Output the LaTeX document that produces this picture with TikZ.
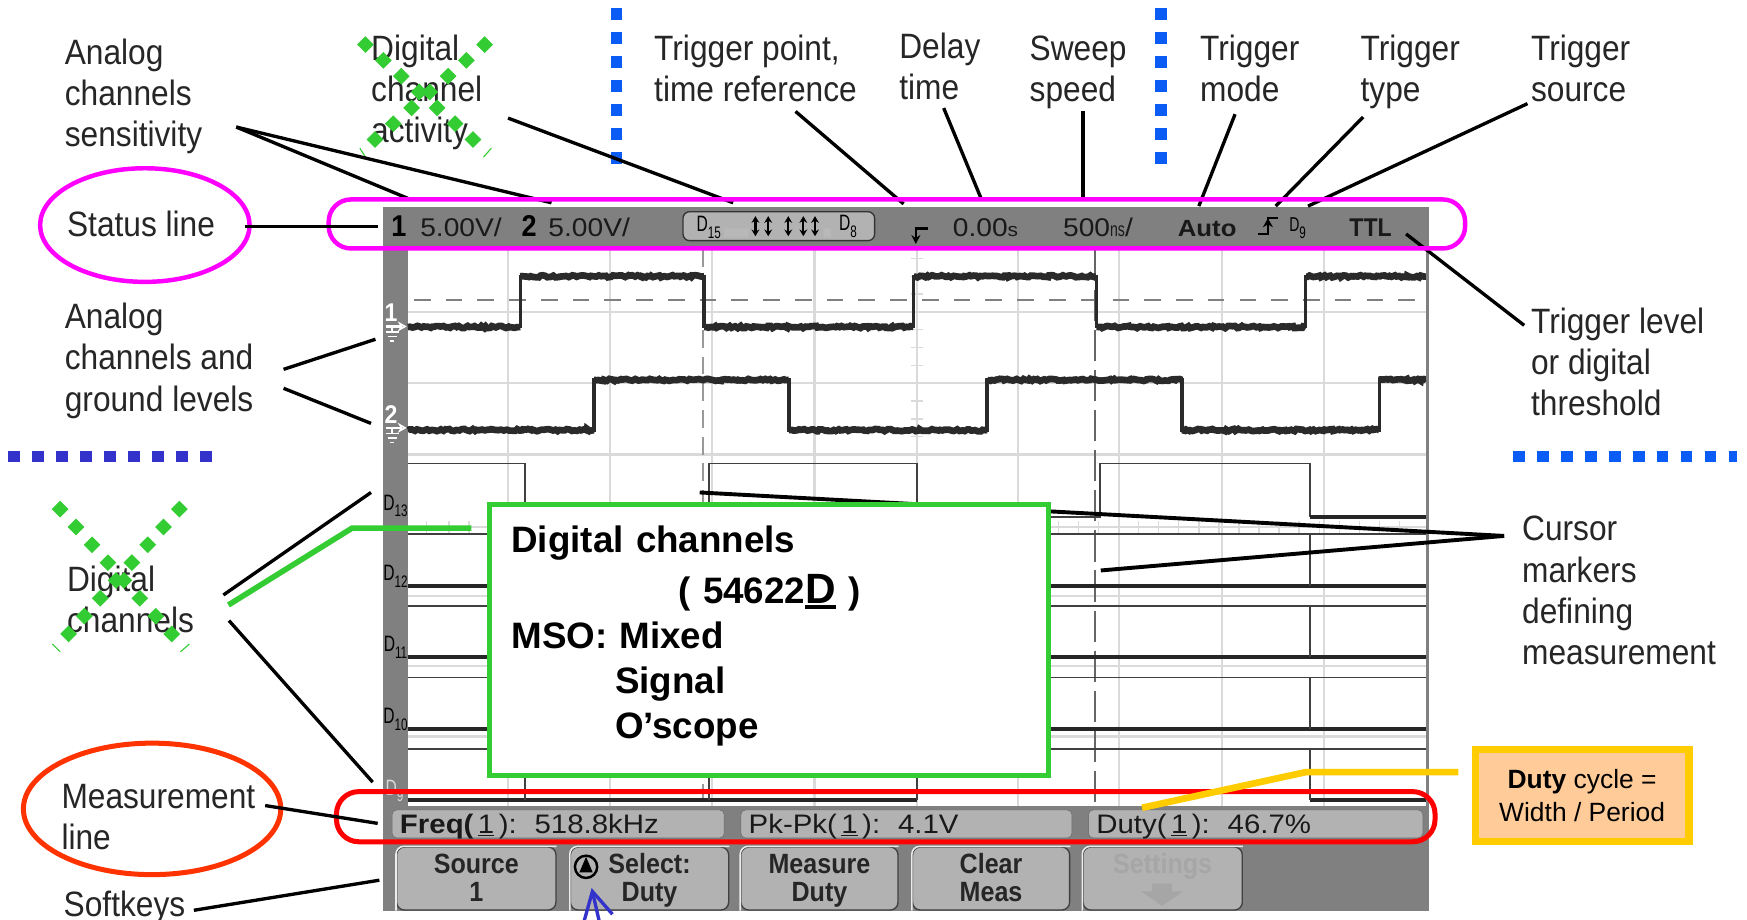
\documentclass[tikz,border=0pt]{standalone}
\usepackage{fontspec}
\setmainfont{Liberation Sans}
\newfontfamily\lblfont[FakeStretch=0.9]{Liberation Sans}
\newfontfamily\scopefont[FakeStretch=1.1]{Liberation Sans}
\newfontfamily\thinfont[FakeStretch=0.7]{Liberation Sans}
\usetikzlibrary{arrows.meta,positioning,shapes.geometric,decorations.pathmorphing}
\definecolor{scopegray}{HTML}{808080}
\definecolor{keygray}{HTML}{B2B2B2}
\definecolor{gridgray}{HTML}{DADADA}
\definecolor{tracegray}{HTML}{2A2A2A}
\definecolor{ringpink}{HTML}{FF00FF}
\definecolor{ringred}{HTML}{FF3300}
\definecolor{xgreen}{HTML}{33CC33}
\definecolor{dotblue}{HTML}{0A5CF5}
\definecolor{dotindigo}{HTML}{3333CC}
\definecolor{noteyellow}{HTML}{FFCC00}
\definecolor{notefill}{HTML}{FFCC99}
\tikzset{
  lbl/.style={anchor=base west,align=left,inner sep=0pt,text=black!85,
              font=\lblfont\fontsize{31.6}{37}\selectfont},
  stat/.style={anchor=base west,inner sep=0pt,text=black!90,
              font=\scopefont\fontsize{23}{26}\selectfont},
  chan/.style={inner sep=0pt,text=black,font=\thinfont\fontsize{20}{22}\selectfont},
  leader/.style={line width=3pt,draw=black},
  gridline/.style={line width=2pt,draw=gridgray},
  tickmark/.style={line width=1.2pt,draw=gridgray},
  highline/.style={line width=1.6pt,draw=black!75},
  lowline/.style={line width=3.4pt,draw=black!85},
  flat/.style={line width=6pt,draw=tracegray,decorate,
               decoration={random steps,segment length=2pt,amplitude=1pt}},
  edge/.style={line width=3pt,draw=tracegray},
  dotline/.style={line width=10pt,dash pattern=on 10.5pt off 11pt},
  measbox/.style={draw=black!60,fill=keygray,rounded corners=4pt,inner ysep=0pt,inner xsep=7pt,
              minimum height=25pt,text height=19pt,text depth=2pt,align=left,text=black!90,
              font=\scopefont\fontsize{24}{25}\selectfont},
  softkey/.style={draw=black!75,line width=1.2pt,fill=keygray,rounded corners=7pt,inner sep=0pt,
              minimum height=55pt,align=center,text=black!85,
              font=\lblfont\bfseries\fontsize{25}{25}\selectfont},
  ring/.style={ellipse,line width=4pt,inner sep=0pt},
  band/.style={rounded corners=20pt,inner sep=0pt},
}
\newcommand{\greencross}[5]{%
  \foreach \i in {1,...,#5} {
    \fill[xgreen,shift={({#1+(\i-1)*#3},{#2+(\i-1)*#4})}] (0,-7.5) -- (7.5,0) -- (0,7.5) -- (-7.5,0) -- cycle;
  }
}
\newcommand{\gndmark}[2]{%
  \draw[white,line width=1.3pt] (#1,#2) -- (#1,#2+4);
  \draw[white,line width=1.3pt] (#1-6,#2+4) -- (#1+6,#2+4) (#1-4,#2+8) -- (#1+4,#2+8) (#1-2,#2+12) -- (#1+2,#2+12);
}
\newcommand{\chanmark}[2]{#1\raisebox{-6pt}{\fontsize{15}{16}\selectfont #2}}
\newcommand{\keytop}{\rule{0pt}{24pt}}
\begin{document}
\begin{tikzpicture}[x=1pt,y=-1pt]
  \path[fill=white,use as bounding box] (0,0) rectangle (1568,825);
  % scope screen
  \fill[scopegray] (344,186) rectangle (1283,818);
  \fill[white] (366,224) rectangle (1281,723);
  \foreach \gx in {456,547.5,639,731,823,914,1004,1097,1188}
    \draw[gridline] (\gx,224) -- (\gx,723);
  \foreach \gy in {280,344,408,473,535,598,661}
    \draw[gridline] (366,\gy) -- (1281,\gy);
  \foreach \ty in {232,248,...,400}
    \draw[tickmark] (818,\ty) -- (828,\ty);
  \foreach \tx in {383,403,421,950,968,...,1270}
    \draw[tickmark] (\tx,468) -- (\tx,478);
  \draw[line width=1.6pt,draw=gray,dash pattern=on 15pt off 13.5pt] (371.5,269) -- (1272,269);
  \draw[line width=1.6pt,draw=gray!80,dash pattern=on 16pt off 8pt] (631,224) -- (631,723);
  \draw[line width=1.6pt,draw=black!60,dash pattern=on 28pt off 8pt] (983,224) -- (983,723);
  % analog traces
  \pgfmathsetseed{7}
  \draw[edge] (366,293) -| (467,248) -| (632,293) -| (820,248) -| (984,293) -| (1172,248) -- (1280,248);
  \draw[edge] (366,386) -| (533,341) -| (708,386) -| (886,341) -| (1061,386) -| (1238,341) -- (1280,341);
  \foreach \xa/\xb/\yy in {366/467/293.5,467/632/248,632/820/293.5,820/984/248,984/1172/293.5,1172/1280/248,
                           366/533/386,533/708/341,708/886/386,886/1061/341,1061/1238/386,1238/1280/341}
    \draw[flat] (\xa,\yy) -- (\xb,\yy);
  % digital traces
  \draw[highline] (366,416) -| (471,464) -| (636,416) -| (823,464) -| (987,416) -| (1176,464);
  \draw[lowline] (1176,464) -- (1280,464);
  \foreach \yh/\yl in {479/526,544/590,608/654} {
    \draw[highline] (366,\yh) -- (1280,\yh);
    \draw[lowline] (366,\yl) -- (1280,\yl);
    \draw[highline] (1176,\yh) -- (1176,\yl);
  }
  \draw[highline] (366,672) -- (1280,672);
  \draw[lowline] (366,718) -- (823,718);
  \draw[lowline] (1176,718) -- (1280,718);
  \foreach \ex in {471,636,823,1176}
    \draw[highline] (\ex,672) -- (\ex,718);
  \draw[line width=1.6pt,draw=gray] (1281,224) -- (1281,723);
  % channel marks
  \node[chan,text=white,font=\lblfont\bfseries\fontsize{23}{24}\selectfont] (chone) at (351,281) {1};
  \node[chan,text=white,font=\lblfont\bfseries\fontsize{23}{24}\selectfont] (chtwo) at (351,372) {2};
  \draw[white,line width=2pt,-{Stealth[length=8pt,width=9pt,open]}] (346,293) -- (365,293);
  \draw[white,line width=2pt,-{Stealth[length=8pt,width=9pt,open]}] (346,384) -- (365,384);
  \gndmark{352}{294}
  \gndmark{352}{385}
  \node[chan] (dthirteen) at (355,454) {\chanmark{D}{13}};
  \node[chan] (dtwelve) at (355,517) {\chanmark{D}{12}};
  \node[chan] (deleven) at (355,581) {\chanmark{D}{11}};
  \node[chan] (dten) at (355,646) {\chanmark{D}{10}};
  \node[chan,text=white!85!black] (dnine) at (354,710) {\chanmark{D}{9}};
  % status line texts
  \node[stat,font=\lblfont\bfseries\fontsize{27}{28}\selectfont,text=black] (statone) at (351,212) {1};
  \node[stat] (stata) at (377,212) {5.00V/};
  \node[stat,font=\lblfont\bfseries\fontsize{27}{28}\selectfont,text=black] (stattwo) at (468,212) {2};
  \node[stat] (statb) at (492,212) {5.00V/};
  \node[draw=black!80,line width=1.2pt,fill=keygray,rounded corners=6pt,minimum width=172pt,minimum height=26pt,inner sep=0pt] (pill) at (699,203) {};
  \fill[black!28] (650,205) rectangle (672,213) (739,205) rectangle (746,213);
  \foreach \ax in {678,689.5,707.5,721,731.5}
    \draw[line width=2pt,draw=black,{Stealth[length=6pt,width=7pt]}-{Stealth[length=6pt,width=7pt]}] (\ax,194) -- (\ax,212);
  \node[chan,anchor=base west] (dfifteen) at (625,208) {\chanmark{D}{15}};
  \node[chan,anchor=base west] (deight) at (753,207) {\chanmark{D}{8}};
  \draw[line width=2pt,draw=black,-{Stealth[length=8pt,width=8pt]}] (833,205) -- (822,205) -- (822,219);
  \node[stat] (statdelay) at (855,212) {0.00\fontsize{17}{18}\selectfont s};
  \node[stat] (statsweep) at (954,212) {500\thinfont\fontsize{18}{18}\selectfont ns\scopefont\fontsize{23}{26}\selectfont/};
  \node[stat,font=\scopefont\bfseries\fontsize{21}{24}\selectfont] (statmode) at (1057,212) {Auto};
  \draw[line width=2pt,draw=black] (1129,210) -- (1138,210) -- (1138,196) -- (1147,196);
  \draw[line width=2pt,draw=black,-{Stealth[length=8pt,width=9pt]}] (1138,210) -- (1138,196);
  \node[chan,anchor=base west,font=\thinfont\fontsize{18}{20}\selectfont] (stattype) at (1157,208) {\chanmark{D}{9}};
  \node[stat,font=\lblfont\bfseries\fontsize{23}{26}\selectfont] (stattrig) at (1211,212) {TTL};
  % measurement line
  \node[measbox,text width=284pt] (freq) at (501,739.5) {\textbf{Freq(}\,\underline{1}\,):\ \ 518.8kHz};
  \node[measbox,text width=283pt] (pkpk) at (813.5,739.5) {Pk-Pk(\,\underline{1}\,):\ \ 4.1V};
  \node[measbox,text width=286pt] (duty) at (1127,739.5) {Duty(\,\underline{1}\,):\ \ 46.7\%};
  % softkeys
  \node[softkey,minimum width=143pt] (srckey) at (427.5,788.5) {\keytop Source\\1\strut};
  \node[softkey,minimum width=142pt] (selkey) at (583,788.5) {\keytop Select:\\Duty\strut};
  \node[softkey,minimum width=141pt] (meakey) at (735.5,788.5) {\keytop Measure\\Duty\strut};
  \node[softkey,minimum width=141pt] (clrkey) at (889.5,788.5) {\keytop Clear\\Meas\strut};
  \node[softkey,minimum width=143pt,text=black!35] (setkey) at (1043.5,788.5) {\keytop Settings\\\strut};
  \foreach \kn in {srckey,selkey,meakey,clrkey,setkey}
    \draw[white!85!gray,line width=1.4pt,rounded corners=7pt] (\kn.south west) |- (\kn.north east);
  \fill[black!35] (1034,793) -- (1052,793) -- (1052,800) -- (1062,800) -- (1043,813) -- (1024,800) -- (1034,800) -- cycle;
  \draw[black!30,line width=2pt] (372,778) circle (11pt);
  \fill[black!30] (372,768) -- (379,785) -- (365,785) -- cycle;
  \draw[black,line width=2.2pt] (526,778) circle (10pt);
  \fill[black] (526,769) -- (532,783) -- (520,783) -- cycle;
  % labels
  \node[lbl] (senslbl) at (58,131.5) {Analog\\channels\\sensitivity};
  \node[lbl] (activlbl) at (333,128) {Digital\\channel\\activity};
  \node[lbl] (pointlbl) at (587,91.5) {Trigger point,\\time reference};
  \node[lbl] (delaylbl) at (807,89.5) {Delay\\time};
  \node[lbl] (sweeplbl) at (924,91.5) {Sweep\\speed};
  \node[lbl] (modelbl) at (1077,91.5) {Trigger\\mode};
  \node[lbl] (typelbl) at (1221,91.5) {Trigger\\type};
  \node[lbl] (sourcelbl) at (1374,91.5) {Trigger\\source};
  \node[lbl] (levellbl) at (1374,373) {Trigger level\\or digital\\threshold};
  \node[lbl] (cursorlbl) at (1366,596.5) {Cursor\\markers\\defining\\measurement};
  \node[lbl] (groundlbl) at (58,369) {Analog\\channels and\\ground levels};
  \node[lbl] (statuslbl) at (60,212) {Status line};
  \node[lbl] (digilbl) at (60,568) {Digital\\channels};
  \node[lbl] (measlbl) at (55,762.5) {Measurement\\line};
  \node[lbl] (softlbl) at (57,823) {Softkeys};
  % crossed out labels
  \greencross{328}{40}{16.1}{14.2}{7}
  \greencross{435}{40}{-16.4}{14.2}{7}
  \greencross{54}{457}{14.3}{16}{8}
  \greencross{161}{457}{-14.2}{16}{8}
  \draw[xgreen,line width=1pt] (323,133) -- (328,141) (441,133) -- (434,141) (47,578) -- (54,585) (170,578) -- (162,585);
  % dotted rules
  \draw[dotline,draw=dotblue] (553,7.5) -- (553,148);
  \draw[dotline,draw=dotblue] (1042,7.5) -- (1042,148);
  \draw[dotline,draw=dotindigo] (7.5,409.5) -- (192,409.5);
  \draw[dotline,draw=dotblue] (1358,409.5) -- (1559,409.5);
  % leaders
  \coordinate (senstail) at (212,114);
  \coordinate (sensone) at (366,178);
  \coordinate (senstwo) at (495,182);
  \coordinate (activtail) at (456,106);
  \coordinate (activend) at (658,182);
  \coordinate (pointtail) at (714,100);
  \coordinate (pointend) at (811,183);
  \coordinate (delaytail) at (847,97);
  \coordinate (delayend) at (880.5,178);
  \coordinate (sweeptail) at (972,100);
  \coordinate (sweepend) at (972,178);
  \coordinate (modetail) at (1108.5,102.5);
  \coordinate (modeend) at (1076,185);
  \coordinate (typetail) at (1223.5,105);
  \coordinate (typeend) at (1145,185);
  \coordinate (sourcetail) at (1371,93);
  \coordinate (sourceend) at (1174,185);
  \coordinate (leveltail) at (1368,292);
  \coordinate (levelend) at (1262,210);
  \coordinate (groundtail) at (254.5,331.5);
  \coordinate (groundone) at (337,304.5);
  \coordinate (groundtwoa) at (254.5,348.5);
  \coordinate (groundtwo) at (333,380);
  \coordinate (digitop) at (200.5,534);
  \coordinate (digione) at (333,442);
  \coordinate (digibot) at (205.5,557);
  \coordinate (digitwo) at (334.5,702);
  \coordinate (cursortip) at (1350,481);
  \coordinate (cursorone) at (628,442);
  \coordinate (cursortwo) at (988,512);
  \coordinate (softtail) at (174,817);
  \coordinate (softend) at (340.5,790);
  \coordinate (statustail) at (219.5,203.5);
  \coordinate (statusend) at (339,203.5);
  \coordinate (meastail) at (238,723);
  \coordinate (measend) at (339,739);
  \draw[leader] (senstail) -- (sensone);
  \draw[leader] (senstail) -- (senstwo);
  \draw[leader] (activtail) -- (activend);
  \draw[leader] (pointtail) -- (pointend);
  \draw[leader] (delaytail) -- (delayend);
  \draw[leader] (sweeptail) -- (sweepend);
  \draw[leader] (modetail) -- (modeend);
  \draw[leader] (typetail) -- (typeend);
  \draw[leader] (sourcetail) -- (sourceend);
  \draw[leader] (leveltail) -- (levelend);
  \draw[leader] (groundtail) -- (groundone);
  \draw[leader] (groundtwoa) -- (groundtwo);
  \draw[leader] (digitop) -- (digione);
  \draw[leader] (digibot) -- (digitwo);
  \draw[leader,line width=3.5pt] (cursortip) -- (cursorone);
  \draw[leader,line width=3.5pt] (cursortip) -- (cursortwo);
  \draw[leader] (softtail) -- (softend);
  % rings and bands
  \node[band,draw=ringpink,line width=4pt,minimum width=1020pt,minimum height=44pt] (statusband) at (805,201) {};
  \node[band,draw=red,line width=4.5pt,minimum width=986pt,minimum height=45pt] (measband) at (795,733) {};
  \node[ring,draw=ringpink,minimum width=188pt,minimum height=102pt] (statusring) at (130,202) {};
  \node[ring,draw=ringred,line width=4.5pt,minimum width=231pt,minimum height=118pt] (measring) at (136.5,726) {};
  \draw[leader] (statustail) -- (statusend);
  \draw[leader] (meastail) -- (measend);
  % digital channels note
  \node[draw=xgreen,line width=4.5pt,fill=white,inner xsep=20pt,inner ysep=0pt,minimum height=243pt,text width=462pt,align=left,
        font=\bfseries\fontsize{33}{40.5}\selectfont] (mixednote) at (690,574.5)
    {Digital channels\\[5pt]
     \hspace*{150pt}( 54622\rlap{\rule[-5pt]{27.4pt}{3.5pt}}{\fontsize{38}{40.5}\selectfont D} )\\
     MSO: Mixed\\
     \hspace*{93pt}Signal\\
     \hspace*{93pt}O’scope\rule[-14pt]{0pt}{14pt}};
  \coordinate (greenfoot) at (205,543);
  \coordinate (greenknee) at (316,474);
  \coordinate (greenend) at (423,474);
  \draw[xgreen,line width=5pt] (greenfoot) -- (greenknee) -- (greenend);
  % duty cycle note
  \node[draw=noteyellow,line width=6.5pt,fill=notefill,inner sep=0pt,minimum width=192pt,minimum height=82pt,align=center,
        font=\fontsize{23.7}{29.5}\selectfont] (dutynote) at (1420,714)
    {\textbf{Duty} cycle =\\Width / Period};
  \coordinate (yellowfoot) at (1025,725);
  \coordinate (yellowknee) at (1172,693);
  \coordinate (yellowend) at (1309,693);
  \draw[noteyellow,line width=6pt] (yellowfoot) -- (yellowknee) -- (yellowend);
  % blue arrow
  \coordinate (arrowtail) at (539,832);
  \coordinate (arrowtip) at (531,797);
  \draw[dotindigo,line width=3pt,-{Straight Barb[length=24pt,width=26pt]}] (arrowtail) -- (arrowtip);
\end{tikzpicture}
\end{document}
